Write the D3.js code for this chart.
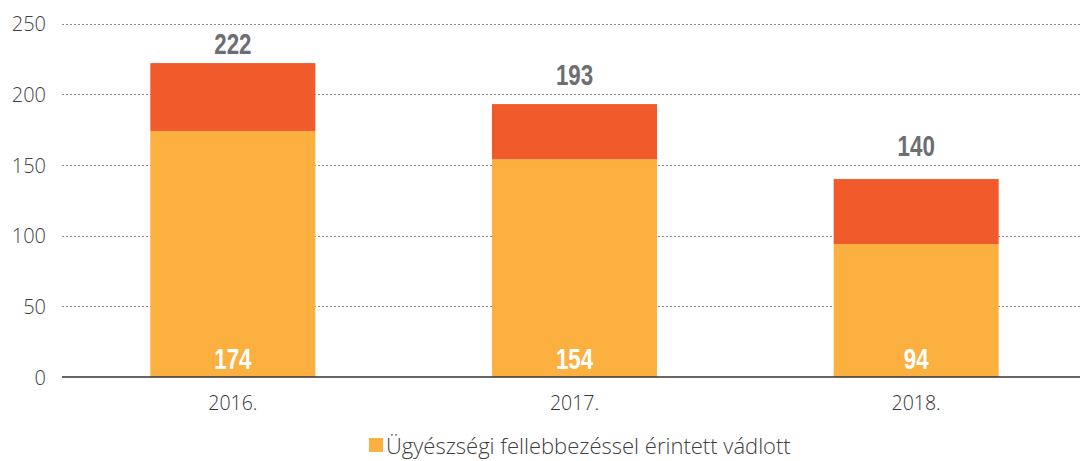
<!DOCTYPE html>
<html>
<head>
<meta charset="utf-8">
<script src="https://cdn.jsdelivr.net/npm/d3@7"></script>
<style>
	body { margin: 0; background: #fff; }
	svg { display: block; }
</style>
</head>
<body>
<div id="chart"></div>
<script>
var years = ['2016.', '2017.', '2018.'];
var appealed = [174, 154, 94];
var other = [48, 39, 46];
var totals = [222, 193, 140];
var y_ticks = [0, 50, 100, 150, 200, 250];
var legend_label = 'Ügyészségi fellebbezéssel érintett vádlott';

var chart_width = 1080;
var chart_height = 461;
// gap between bar top and its total label (px), as placed in the original
var label_gap = [9, 19, 23];

var svg = d3.select('#chart')
	.append('svg')
	.attr('width', chart_width)
	.attr('height', chart_height);

var x_scale = d3.scaleBand()
	.domain(years)
	.range([62, 1087])
	.paddingInner(0.517)
	.paddingOuter(0.2585);

var y_scale = d3.scaleLinear()
	.domain([0, 250])
	.range([377, 23.5]);

// grid lines
svg.append('g')
	.selectAll('line')
	.data(y_ticks.slice(1))
	.enter()
	.append('line')
	.attr('x1', 62)
	.attr('x2', chart_width)
	.attr('y1', function(d){ return Math.round(y_scale(d)) + 0.5; })
	.attr('y2', function(d){ return Math.round(y_scale(d)) + 0.5; })
	.attr('stroke', '#8a8a8a')
	.attr('stroke-width', 1)
	.attr('stroke-dasharray', '2,2');

// y axis labels
var y_axis = d3.axisLeft(y_scale).tickValues(y_ticks).tickSize(0).tickPadding(0);
var gy = svg.append('g')
	.attr('transform', 'translate(46,0)')
	.call(y_axis);
gy.select('.domain').remove();
gy.selectAll('text')
	.attr('font-family', '"Open Sans", sans-serif')
	.attr('font-weight', 300)
	.attr('font-size', 20)
	.attr('fill', '#404040')
	.attr('dy', '0.36em');

// bars
var stack = years.map(function(y, i){
	return { year: y, a: appealed[i], b: other[i], total: totals[i], gap: label_gap[i] };
});

svg.selectAll('rect.a')
	.data(stack)
	.enter()
	.append('rect')
	.attr('class', 'a')
	.attr('x', function(d){ return x_scale(d.year); })
	.attr('width', x_scale.bandwidth())
	.attr('y', function(d){ return y_scale(d.a); })
	.attr('height', function(d){ return y_scale(0) - y_scale(d.a); })
	.attr('fill', '#fcb040');

svg.selectAll('rect.b')
	.data(stack)
	.enter()
	.append('rect')
	.attr('class', 'b')
	.attr('x', function(d){ return x_scale(d.year); })
	.attr('width', x_scale.bandwidth())
	.attr('y', function(d){ return y_scale(d.a + d.b); })
	.attr('height', function(d){ return y_scale(d.a) - y_scale(d.a + d.b); })
	.attr('fill', '#f15a2b');

// baseline
svg.append('line')
	.attr('x1', 62)
	.attr('x2', chart_width)
	.attr('y1', y_scale(0))
	.attr('y2', y_scale(0))
	.attr('stroke', '#333')
	.attr('stroke-width', 1.5);

// x axis
var x_axis = d3.axisBottom(x_scale).tickSize(0).tickPadding(0);
var gx = svg.append('g')
	.attr('transform', 'translate(0,' + y_scale(0) + ')')
	.call(x_axis);
gx.select('.domain').remove();
gx.selectAll('text')
	.attr('font-family', '"Open Sans", sans-serif')
	.attr('font-weight', 300)
	.attr('font-size', 19.5)
	.attr('fill', '#333')
	.attr('dy', '1.7em');

// condensed bold labels
function cond_label(cls, get_text, get_y, colour) {
	svg.selectAll('text.' + cls)
		.data(stack)
		.enter()
		.append('text')
		.attr('class', cls)
		.text(get_text)
		.attr('transform', function(d){
			return 'translate(' + (x_scale(d.year) + x_scale.bandwidth() / 2) + ',' + get_y(d) + ') scale(0.77,1)';
		})
		.attr('text-anchor', 'middle')
		.attr('font-family', '"Liberation Sans", Arial, sans-serif')
		.attr('font-weight', 'bold')
		.attr('font-size', 29)
		.attr('fill', colour);
}

cond_label('total', function(d){ return d.total; }, function(d){ return y_scale(d.total) - d.gap; }, '#6d6e71');
cond_label('inner', function(d){ return d.a; }, function(){ return y_scale(0) - 8; }, '#fff');

// legend
var legend = svg.append('g').attr('transform', 'translate(369,438)');
legend.append('rect')
	.attr('width', 14)
	.attr('height', 14)
	.attr('fill', '#fcb040');
legend.append('text')
	.text(legend_label)
	.attr('x', 17)
	.attr('y', 16)
	.attr('font-family', '"Open Sans", sans-serif')
	.attr('font-weight', 300)
	.attr('font-size', 22)
	.attr('fill', '#404040');
</script>
</body>
</html>
